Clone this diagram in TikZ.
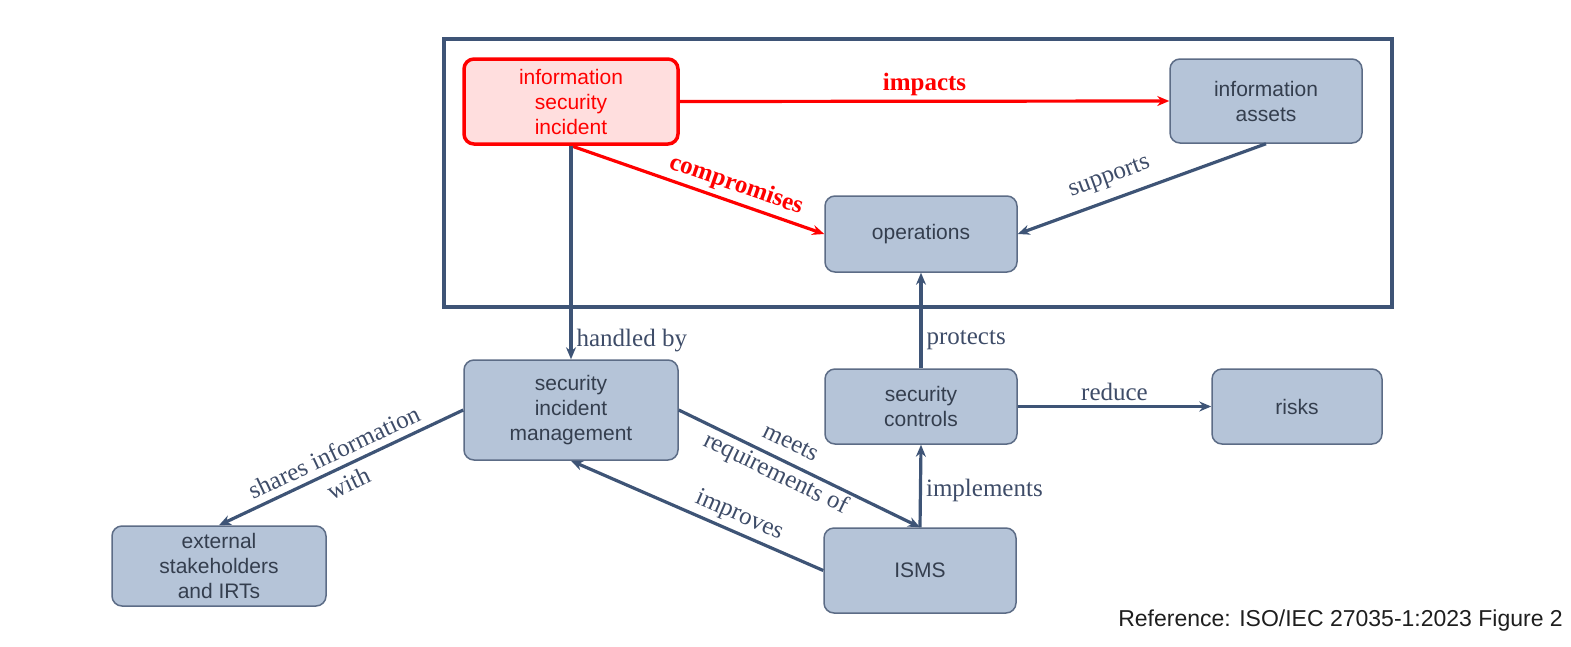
\documentclass[tikz,border=0pt]{standalone}
\usepackage{fontspec}
\setmainfont{Liberation Serif}
\newfontfamily\boxfont{Liberation Sans}
\usetikzlibrary{arrows.meta}
\definecolor{lineblue}{RGB}{62,84,118}
\definecolor{boxfill}{RGB}{181,196,216}
\definecolor{boxline}{RGB}{92,108,134}
\definecolor{boxtext}{RGB}{52,62,78}
\definecolor{labeltext}{RGB}{62,76,104}
\definecolor{incfill}{RGB}{255,222,222}
\definecolor{incred}{RGB}{255,0,0}
\definecolor{reftext}{RGB}{30,30,30}
\tikzset{
  >={Stealth[length=12pt,width=10pt]},
  entity/.style={draw=boxline, line width=1.5pt, fill=boxfill, rounded corners=10pt,
    inner sep=0pt, align=center, text=boxtext,
    font=\boxfont\fontsize{21}{25}\selectfont},
  incident/.style={entity, draw=incred, line width=3.5pt, fill=incfill, text=incred},
  conn/.style={draw=lineblue, line width=3.2pt},
  redconn/.style={draw=incred, line width=3.2pt},
  lbl/.style={text=labeltext, font=\fontsize{25}{34}\selectfont, inner sep=4pt, align=center},
  redlbl/.style={text=incred, font=\fontsize{25}{25}\selectfont\bfseries, inner sep=4pt},
  frame/.style={draw=lineblue, line width=3.5pt}
}
\begin{document}
\begin{tikzpicture}[x=1pt,y=-1pt]
\useasboundingbox (0,0) rectangle (1571,646);
% frame
\node[frame, minimum width=948pt, minimum height=268pt, inner sep=0pt] (fr) at (918,173) {};
% entities
\node[incident, minimum width=214pt, minimum height=85pt] (inc) at (571,101.5) {information\\security\\incident};
\node[entity, minimum width=192pt, minimum height=84pt] (assets) at (1266,101) {information\\assets};
\node[entity, minimum width=192pt, minimum height=76pt] (ops) at (921,234) {operations};
\node[entity, minimum width=214pt, minimum height=100pt] (sim) at (571,410) {security\\incident\\management};
\node[entity, minimum width=192pt, minimum height=75pt] (ctrl) at (921,406.5) {security\\controls};
\node[entity, minimum width=170pt, minimum height=75pt] (risks) at (1297,406.5) {risks};
\node[entity, minimum width=214pt, minimum height=80pt] (ext) at (219,566) {external\\stakeholders\\and IRTs};
\node[entity, minimum width=192pt, minimum height=85pt] (isms) at (920,570.5) {ISMS};
% connectors
\draw[redconn, ->] (inc.east) -- (assets.west) node[redlbl, midway, above] (l1) {impacts};
\draw[redconn, ->] (inc.south) -- (ops.west) node[redlbl, sloped, above, pos=0.63] (l2) {compromises};
\draw[conn, ->] (inc.south) -- (sim.north) node[lbl, right, pos=0.91] (l3) {handled by};
\draw[conn, <-] (ops.east) -- (assets.south) node[lbl, sloped, above=6pt, pos=0.4] (l4) {supports};
\draw[conn, ->] (ctrl.north) -- (ops.south) node[lbl, right, pos=0.29] (l5) {protects};
\draw[conn, ->] (ctrl.east) -- (risks.west) node[lbl, midway, above] (l6) {reduce};
\draw[conn, ->] (isms.north) -- (ctrl.south) node[lbl, right, pos=0.44] (l7) {implements};
\draw[conn, ->] (sim.east) -- (isms.north) node[lbl, sloped, pos=0.43, inner sep=0pt] (l8) {meets\\requirements of};
\draw[conn, <-] (sim.south) -- (isms.west) node[lbl, sloped, above, pos=0.64] (l9) {improves};
\draw[conn, <-] (ext.north) -- (sim.west) node[lbl, sloped, pos=0.5, inner sep=0pt] (l10) {shares information\\with};
% reference
\node[anchor=east, text=reftext, font=\boxfont\fontsize{23}{25}\selectfont, inner sep=0pt] (ref) at (1563,621) {Reference: ISO/IEC 27035-1:2023 Figure 2};
\end{tikzpicture}
\end{document}
